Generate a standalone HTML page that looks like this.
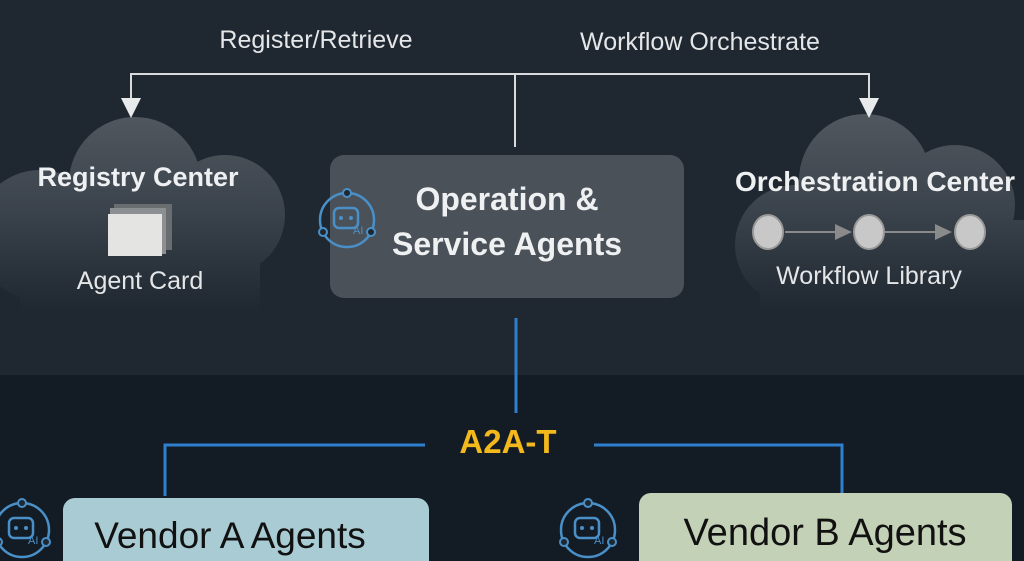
<!DOCTYPE html>
<html><head><meta charset="utf-8"><style>
body{margin:0;width:1024px;height:561px;overflow:hidden;background:#131b24;font-family:"Liberation Sans",sans-serif;}
svg{display:block}
</style></head><body>
<svg width="1024" height="561" viewBox="0 0 1024 561">
<defs>
<linearGradient id="cg" gradientUnits="userSpaceOnUse" x1="0" y1="115" x2="0" y2="310">
<stop offset="0" stop-color="#50575f"/><stop offset="0.5" stop-color="#3a424b"/><stop offset="1" stop-color="#1f2730"/>
</linearGradient>
<g id="robot">
<circle cx="0" cy="0" r="27" fill="none" stroke="#4a90c8" stroke-width="2.5"/>
<rect x="-13" y="-12" width="24" height="20" rx="5" fill="none" stroke="#4a90c8" stroke-width="2.5"/>
<circle cx="-6" cy="-2" r="2" fill="#4a90c8"/><circle cx="4" cy="-2" r="2" fill="#4a90c8"/>
<text x="6" y="14" font-size="11" fill="#4a90c8" font-family="Liberation Sans">AI</text>
<circle cx="0" cy="-27" r="4" fill="#1f2730" stroke="#4a90c8" stroke-width="2"/>
<circle cx="-24" cy="12" r="4" fill="#1f2730" stroke="#4a90c8" stroke-width="2"/>
<circle cx="24" cy="12" r="4" fill="#1f2730" stroke="#4a90c8" stroke-width="2"/>
</g>
</defs>
<rect x="0" y="0" width="1024" height="375" fill="#1f2730"/>
<!-- left cloud -->
<g fill="url(#cg)">
<circle cx="135" cy="183" r="66"/><circle cx="225" cy="215" r="60"/><circle cx="40" cy="235" r="65"/>
<rect x="20" y="220" width="240" height="90"/>
</g>
<!-- right cloud -->
<g fill="url(#cg)">
<circle cx="865" cy="180" r="66"/><circle cx="955" cy="205" r="60"/><circle cx="795" cy="245" r="60"/>
<rect x="760" y="220" width="264" height="90"/>
</g>
<!-- top connectors -->
<polyline points="131,100 131,74 869,74 869,100" fill="none" stroke="#d8dadc" stroke-width="2"/>
<line x1="515" y1="74" x2="515" y2="147" stroke="#d8dadc" stroke-width="2"/>
<polygon points="121,98 141,98 131,118" fill="#e8eaec"/>
<polygon points="859,98 879,98 869,118" fill="#e8eaec"/>
<text x="316" y="48" font-size="25" fill="#e4e6e8" text-anchor="middle">Register/Retrieve</text>
<text x="700" y="50" font-size="25" fill="#e4e6e8" text-anchor="middle">Workflow Orchestrate</text>
<!-- registry -->
<text x="138" y="186" font-size="27" font-weight="bold" fill="#eef0f2" text-anchor="middle">Registry Center</text>
<rect x="114" y="204" width="58" height="46" fill="#6a6d70"/>
<rect x="110" y="208" width="56" height="46" fill="#8d9092"/>
<rect x="108" y="214" width="54" height="42" fill="#e4e4e2"/>
<text x="140" y="289" font-size="25" fill="#e4e6e8" text-anchor="middle">Agent Card</text>
<!-- central box -->
<rect x="330" y="155" width="354" height="143" rx="14" fill="#4a5159"/>
<text x="507" y="210" font-size="32" font-weight="bold" fill="#eef0f2" text-anchor="middle">Operation &amp;</text>
<text x="507" y="255" font-size="32" font-weight="bold" fill="#eef0f2" text-anchor="middle">Service Agents</text>
<use href="#robot" x="347" y="220"/>
<!-- orchestration -->
<text x="875" y="191" font-size="28" font-weight="bold" fill="#eef0f2" text-anchor="middle">Orchestration Center</text>
<line x1="785" y1="232" x2="840" y2="232" stroke="#8a8a8a" stroke-width="2"/>
<polygon points="835,224 852,232 835,240" fill="#8a8a8a"/>
<line x1="885" y1="232" x2="940" y2="232" stroke="#8a8a8a" stroke-width="2"/>
<polygon points="935,224 952,232 935,240" fill="#8a8a8a"/>
<ellipse cx="768" cy="232" rx="15" ry="17" fill="#c8c8c8" stroke="#9a9a9a" stroke-width="2"/>
<ellipse cx="869" cy="232" rx="15" ry="17" fill="#c8c8c8" stroke="#9a9a9a" stroke-width="2"/>
<ellipse cx="970" cy="232" rx="15" ry="17" fill="#c8c8c8" stroke="#9a9a9a" stroke-width="2"/>
<text x="869" y="284" font-size="25" fill="#e4e6e8" text-anchor="middle">Workflow Library</text>
<!-- bottom connectors -->
<line x1="516" y1="318" x2="516" y2="413" stroke="#2f7fd0" stroke-width="3"/>
<polyline points="165,496 165,445 425,445" fill="none" stroke="#2f7fd0" stroke-width="3"/>
<polyline points="594,445 842,445 842,496" fill="none" stroke="#2f7fd0" stroke-width="3"/>
<text x="508" y="453" font-size="33" font-weight="bold" fill="#f2b81c" text-anchor="middle">A2A-T</text>
<!-- vendors -->
<rect x="63" y="498" width="366" height="80" rx="12" fill="#a9ccd4"/>
<text x="230" y="548" font-size="37" fill="#111" text-anchor="middle">Vendor A Agents</text>
<rect x="639" y="493" width="373" height="85" rx="12" fill="#c3d1b6"/>
<text x="825" y="545" font-size="38" fill="#111" text-anchor="middle">Vendor B Agents</text>
<use href="#robot" x="22" y="530"/>
<use href="#robot" x="588" y="530"/>
</svg>
</body></html>
